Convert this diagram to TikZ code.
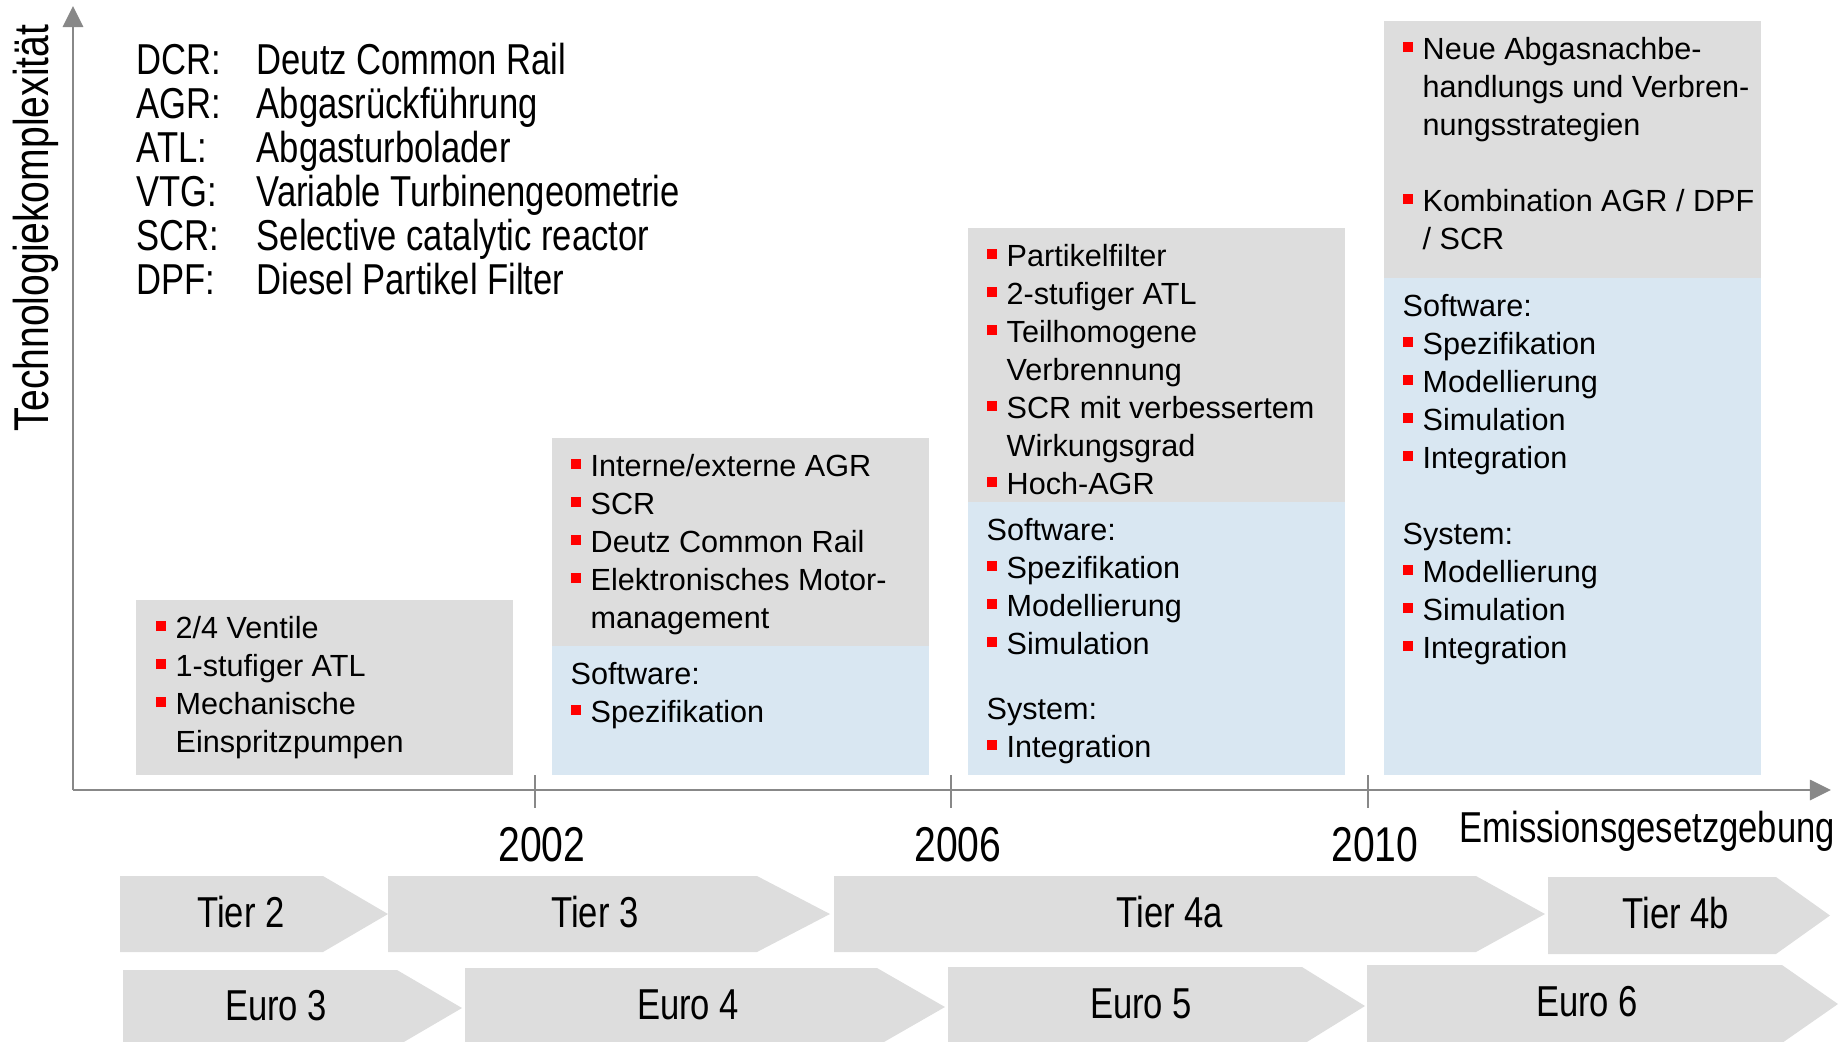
\documentclass[tikz,border=0pt]{standalone}
\usepackage{fontspec}
\setmainfont{Liberation Sans}
\newfontfamily\narrowfont[FakeStretch=0.8]{Liberation Sans}
\usetikzlibrary{arrows.meta}
\definecolor{boxgray}{RGB}{221,221,221}
\definecolor{boxblue}{RGB}{217,231,242}
\definecolor{chevgray}{RGB}{221,221,221}
\definecolor{bulletred}{RGB}{255,0,0}
\definecolor{axisgray}{RGB}{136,136,136}
\tikzstyle{graybox} = [fill=boxgray]
\tikzstyle{bluebox} = [fill=boxblue]
\tikzstyle{chevfill} = [fill=chevgray]
% multi-line nodes sit on the baseline of their last line
\tikzstyle{boxtext} = [anchor=base west, inner sep=0pt, align=left, font=\fontsize{8.7pt}{10.8pt}\selectfont]
\tikzstyle{legend} = [anchor=base west, inner sep=0pt, align=left, font=\narrowfont\fontsize{12.3pt}{12.5pt}\selectfont]
\tikzstyle{chevlabel} = [inner sep=0pt, font=\narrowfont\fontsize{12.3pt}{12.5pt}\selectfont]
\tikzstyle{yearlabel} = [inner sep=0pt, font=\narrowfont\fontsize{13.9pt}{14pt}\selectfont]
\tikzstyle{axislabel} = [inner sep=0pt, font=\narrowfont\fontsize{12.3pt}{12.5pt}\selectfont]
\tikzstyle{axis} = [draw, line width=0.8pt, color=axisgray, -{Triangle[length=0.21cm,width=0.2cm]}]
\tikzstyle{tick} = [draw, line width=0.8pt, color=axisgray]
% red square bullet and hanging indent
\newcommand{\bul}{\makebox[0.2cm][l]{\raisebox{0.07cm}{\textcolor{bulletred}{\rule{0.1cm}{0.1cm}}}}}
\newcommand{\ind}{\hspace*{0.2cm}}
% name, left, body right, tip, top, bottom, label x, text
\newcommand{\chevron}[8]{%
\path[chevfill] (#2,#5) -- (#3,#5) -- (#4,{(#5+#6)/2}) -- (#3,#6) -- (#2,#6) -- cycle;
\node[chevlabel] (#1) at (#7,{(#5+#6)/2-2}) {#8};}

\begin{document}
\begin{tikzpicture}[x=0.01cm,y=-0.01cm]
\useasboundingbox (0,0) rectangle (1841,1041);

% axes
\coordinate (origin) at (73,790);
\coordinate (ytip) at (73,6);
\coordinate (xtip) at (1831,790);
\path[axis] (origin) -- (ytip);
\path[axis] (origin) -- (xtip);
\foreach \x/\yr in {535/2002, 951/2006, 1368/2010} {
  \path[tick] (\x,775) -- (\x,808);
  \node[yearlabel] (y\yr) at (\x+7,845) {\yr};
}
\node[axislabel, anchor=base west] (xlab) at (1459,842) {Emissionsgesetzgebung};
\node[yearlabel, anchor=base, rotate=90] (ylab) at (48,228) {Technologiekomplexität};

% legend
\node[legend] (abbr) at (136,294) {DCR:\\AGR:\\ATL:\\VTG:\\SCR:\\DPF:};
\node[legend] (desc) at (256,294) {Deutz Common Rail\\Abgasrückführung\\Abgasturbolader\\Variable Turbinengeometrie\\Selective catalytic reactor\\Diesel Partikel Filter};

% box 1
\path[graybox] (136,600) rectangle (513,775);
\node[boxtext] (g1) at (155,752) {\bul 2/4 Ventile\\\bul 1-stufiger ATL\\\bul Mechanische\\\ind Einspritzpumpen};

% box 2
\path[graybox] (552,438) rectangle (929,646);
\path[bluebox] (552,646) rectangle (929,775);
\node[boxtext] (g2) at (570,628) {\bul Interne/externe AGR\\\bul SCR\\\bul Deutz Common Rail\\\bul Elektronisches Motor-\\\ind management};
\node[boxtext] (b2) at (570,722) {Software:\\\bul Spezifikation};

% box 3
\path[graybox] (968,228) rectangle (1345,502);
\path[bluebox] (968,502) rectangle (1345,775);
\node[boxtext] (g3) at (986,494) {\bul Partikelfilter\\\bul 2-stufiger ATL\\\bul Teilhomogene\\\ind Verbrennung\\\bul SCR mit verbessertem\\\ind Wirkungsgrad\\\bul Hoch-AGR};
\node[boxtext] (b3) at (986,757) {Software:\\\bul Spezifikation\\\bul Modellierung\\\bul Simulation\\[0.27cm]System:\\\bul Integration};

% box 4
\path[graybox] (1384,21) rectangle (1761,278);
\path[bluebox] (1384,278) rectangle (1761,775);
\node[boxtext] (g4) at (1402,249) {\bul Neue Abgasnachbe-\\\ind handlungs und Verbren-\\\ind nungsstrategien\\[0.38cm]\bul Kombination AGR / DPF\\\ind / SCR};
\node[boxtext] (b4) at (1402,658) {Software:\\\bul Spezifikation\\\bul Modellierung\\\bul Simulation\\\bul Integration\\[0.38cm]System:\\\bul Modellierung\\\bul Simulation\\\bul Integration};

% emission stages
\chevron{tier2}{120}{323}{388}{876}{952}{241}{Tier 2}
\chevron{tier3}{388}{757}{830}{876}{952}{595}{Tier 3}
\chevron{tier4a}{834}{1476}{1545}{876}{952}{1170}{Tier 4a}
\chevron{tier4b}{1548}{1776}{1830}{877}{954}{1676}{Tier 4b}
\chevron{euro3}{123}{397}{462}{970}{1046}{276}{Euro 3}
\chevron{euro4}{465}{877}{945}{968}{1046}{688}{Euro 4}
\chevron{euro5}{948}{1302}{1365}{967}{1045}{1141}{Euro 5}
\chevron{euro6}{1367}{1782}{1838}{965}{1043}{1587}{Euro 6}
\end{tikzpicture}
\end{document}
